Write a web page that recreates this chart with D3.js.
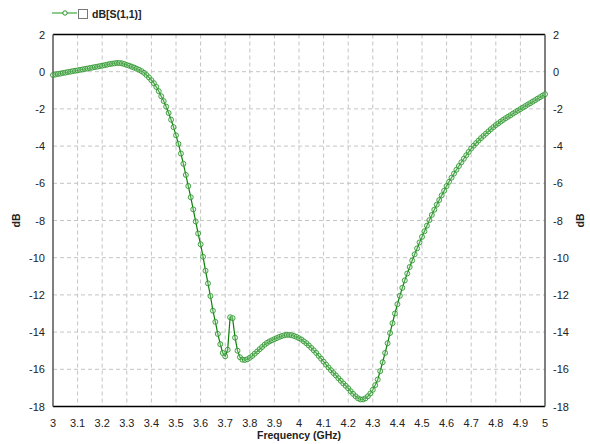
<!DOCTYPE html>
<html>
<head>
<meta charset="utf-8">
<script src="https://cdn.jsdelivr.net/npm/d3@7"></script>
<style>
  body { margin: 0; background: #fff; }
  text { font-family: "Liberation Sans", Arial, sans-serif; }
</style>
</head>
<body>
<div id="chart"></div>
<script>
// frequency start / step (GHz) and S11 values, one per 0.01 GHz
const freqStart = 3.0;
const freqStep = 0.01;
const s11 = [
  -0.18, -0.15, -0.12, -0.10, -0.07, -0.05, -0.02, 0.00, 0.03, 0.05,
  0.07, 0.10, 0.12, 0.15, 0.17, 0.20, 0.22, 0.25, 0.27, 0.30,
  0.32, 0.35, 0.38, 0.41, 0.43, 0.45, 0.47, 0.47, 0.45, 0.41,
  0.36, 0.32, 0.27, 0.22, 0.16, 0.10, 0.03, -0.06, -0.18, -0.31,
  -0.46, -0.62, -0.82, -1.05, -1.32, -1.58, -1.88, -2.22, -2.58, -2.98,
  -3.42, -3.88, -4.40, -4.95, -5.55, -6.15, -6.75, -7.40, -8.05, -8.70,
  -9.28, -9.95, -10.70, -11.38, -12.06, -12.85, -13.45, -14.10, -14.65, -15.12,
  -15.30, -14.95, -13.20, -13.25, -14.30, -15.00, -15.35, -15.48, -15.50, -15.46,
  -15.38, -15.28, -15.16, -15.04, -14.92, -14.80, -14.68, -14.58, -14.50, -14.44,
  -14.38, -14.32, -14.26, -14.21, -14.17, -14.15, -14.15, -14.17, -14.21, -14.26,
  -14.33, -14.40, -14.50, -14.60, -14.72, -14.85, -14.98, -15.12, -15.28, -15.43,
  -15.59, -15.75, -15.90, -16.05, -16.20, -16.33, -16.48, -16.62, -16.76, -16.89,
  -17.02, -17.18, -17.32, -17.45, -17.56, -17.62, -17.62, -17.56, -17.45, -17.30,
  -17.10, -16.85, -16.55, -16.10, -15.62, -15.12, -14.60, -14.05, -13.52, -13.00,
  -12.50, -12.05, -11.62, -11.22, -10.85, -10.50, -10.15, -9.82, -9.50, -9.18,
  -8.88, -8.58, -8.28, -7.98, -7.70, -7.42, -7.15, -6.90, -6.65, -6.40,
  -6.15, -5.92, -5.70, -5.48, -5.27, -5.07, -4.87, -4.68, -4.49, -4.31,
  -4.13, -3.98, -3.84, -3.70, -3.57, -3.45, -3.33, -3.21, -3.09, -2.98,
  -2.87, -2.78, -2.68, -2.59, -2.50, -2.42, -2.34, -2.25, -2.17, -2.09,
  -2.01, -1.93, -1.85, -1.77, -1.69, -1.61, -1.53, -1.45, -1.37, -1.29,
  -1.21
];
const xTicks = [3, 3.1, 3.2, 3.3, 3.4, 3.5, 3.6, 3.7, 3.8, 3.9, 4, 4.1, 4.2, 4.3, 4.4, 4.5, 4.6, 4.7, 4.8, 4.9, 5];
const yTicks = [2, 0, -2, -4, -6, -8, -10, -12, -14, -16, -18];

const width = 590;
const height = 444;
const margin = { top: 34.5, right: 45, bottom: 37.5, left: 53 };

const data = s11.map((v, i) => ({ f: freqStart + i * freqStep, db: v }));

const svg = d3.select('#chart').append('svg')
    .attr('width', width)
    .attr('height', height);

const x = d3.scaleLinear()
    .domain([3, 5])
    .range([margin.left, width - margin.right]);

const y = d3.scaleLinear()
    .domain([-18, 2])
    .range([height - margin.bottom, margin.top]);

// grid lines
svg.append('g')
    .selectAll('line')
    .data(xTicks.slice(1, -1))
    .enter().append('line')
    .attr('x1', d => x(d)).attr('x2', d => x(d))
    .attr('y1', y(2)).attr('y2', y(-18))
    .attr('stroke', '#c4c4c4')
    .attr('stroke-dasharray', '4,3');

svg.append('g')
    .selectAll('line')
    .data(yTicks.slice(1, -1))
    .enter().append('line')
    .attr('x1', x(3)).attr('x2', x(5))
    .attr('y1', d => y(d)).attr('y2', d => y(d))
    .attr('stroke', '#c4c4c4')
    .attr('stroke-dasharray', '4,3');

// frame
svg.append('line').attr('x1', x(3)).attr('x2', x(5)).attr('y1', y(2)).attr('y2', y(2))
    .attr('stroke', '#000').attr('stroke-width', 1.5);
svg.append('line').attr('x1', x(3)).attr('x2', x(5)).attr('y1', y(-18)).attr('y2', y(-18))
    .attr('stroke', '#000').attr('stroke-width', 1.5);
svg.append('line').attr('x1', x(3)).attr('x2', x(3)).attr('y1', y(2)).attr('y2', y(-18))
    .attr('stroke', '#555').attr('stroke-width', 1.5);
svg.append('line').attr('x1', x(5)).attr('x2', x(5)).attr('y1', y(2)).attr('y2', y(-18))
    .attr('stroke', '#555').attr('stroke-width', 1.5);

// tick labels
svg.selectAll('.xlab')
    .data(xTicks)
    .enter().append('text')
    .attr('class', 'xlab')
    .attr('x', d => x(d))
    .attr('y', height - margin.bottom + 20)
    .attr('text-anchor', 'middle')
    .attr('font-size', 11)
    .attr('fill', '#222')
    .text(d => d);

svg.selectAll('.ylab')
    .data(yTicks)
    .enter().append('text')
    .attr('class', 'ylab')
    .attr('x', margin.left - 8)
    .attr('y', d => y(d) + 4)
    .attr('text-anchor', 'end')
    .attr('font-size', 11)
    .attr('fill', '#222')
    .text(d => d);

svg.selectAll('.ylab2')
    .data(yTicks)
    .enter().append('text')
    .attr('class', 'ylab2')
    .attr('x', width - margin.right + 8)
    .attr('y', d => y(d) + 4)
    .attr('text-anchor', 'start')
    .attr('font-size', 11)
    .attr('fill', '#222')
    .text(d => d);

// axis titles
svg.append('text')
    .attr('x', 299).attr('y', 439)
    .attr('text-anchor', 'middle')
    .attr('font-size', 10.5).attr('font-weight', 'bold')
    .attr('fill', '#222')
    .text('Frequency (GHz)');

svg.append('text')
    .attr('transform', 'translate(20,' + (y(-8)) + ') rotate(-90)')
    .attr('text-anchor', 'middle')
    .attr('font-size', 10.5).attr('font-weight', 'bold')
    .attr('fill', '#222')
    .text('dB');

svg.append('text')
    .attr('transform', 'translate(584,' + (y(-8)) + ') rotate(-90)')
    .attr('text-anchor', 'middle')
    .attr('font-size', 10.5).attr('font-weight', 'bold')
    .attr('fill', '#222')
    .text('dB');

// curve
const line = d3.line()
    .x(d => x(d.f))
    .y(d => y(d.db));

svg.append('path')
    .datum(data)
    .attr('d', line)
    .attr('fill', 'none')
    .attr('stroke', '#0a800a')
    .attr('stroke-width', 1.2);

svg.selectAll('.pt')
    .data(data)
    .enter().append('circle')
    .attr('class', 'pt')
    .attr('cx', d => x(d.f))
    .attr('cy', d => y(d.db))
    .attr('r', 2.5)
    .attr('fill', 'rgba(190,230,190,0.35)')
    .attr('stroke', '#2a942a')
    .attr('stroke-opacity', 0.85)
    .attr('stroke-width', 1);

// legend
svg.append('line')
    .attr('x1', 52).attr('x2', 77).attr('y1', 13).attr('y2', 13)
    .attr('stroke', '#4caf4c').attr('stroke-width', 1.3);
svg.append('circle')
    .attr('cx', 65).attr('cy', 13).attr('r', 2.2)
    .attr('fill', '#fff').attr('stroke', '#2a942a');
svg.append('rect')
    .attr('x', 78.5).attr('y', 9.5).attr('width', 9).attr('height', 9)
    .attr('fill', '#fff').attr('stroke', '#777');
svg.append('text')
    .attr('x', 92).attr('y', 18)
    .attr('font-size', 10.5).attr('font-weight', 'bold')
    .attr('fill', '#222')
    .text('dB[S(1,1)]');
</script>
</body>
</html>
